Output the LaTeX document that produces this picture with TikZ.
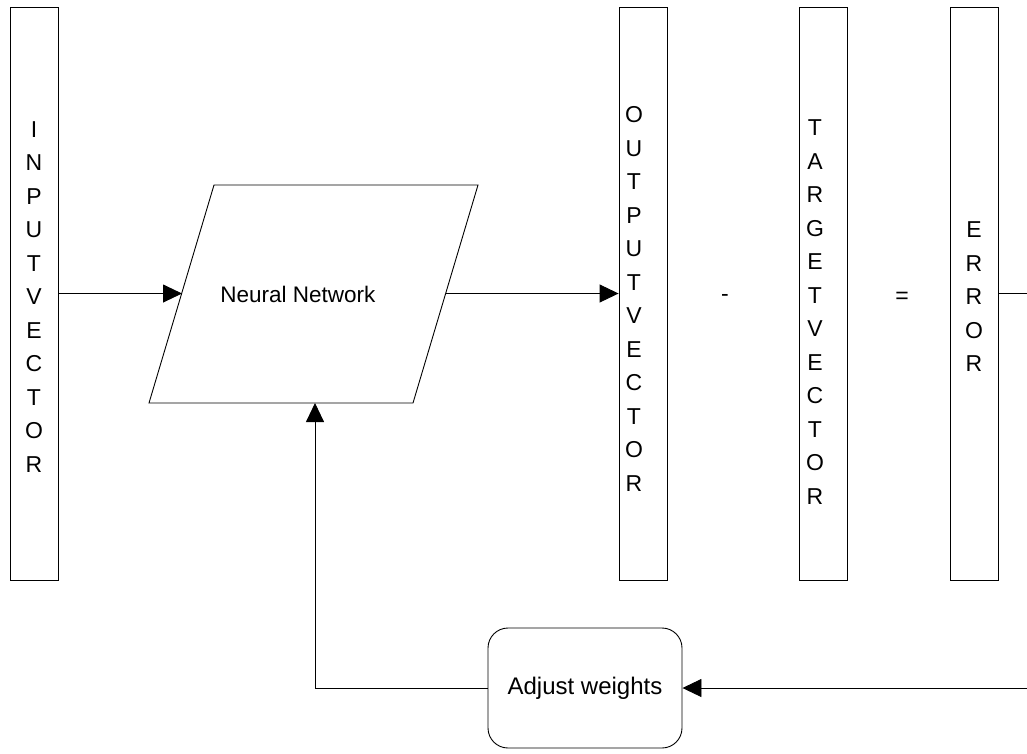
\documentclass[tikz,border=0pt]{standalone}
\usepackage{fontspec}
\setmainfont{Liberation Sans}
\usetikzlibrary{arrows.meta,positioning}

\tikzset{
  vecbox/.style={draw, minimum width=48pt, minimum height=573pt, inner sep=0pt},
  letters/.style={align=center, font=\fontsize{23}{33.5}\selectfont, inner sep=0pt},
  adjbox/.style={draw, rounded corners=20pt, minimum width=194pt, minimum height=120pt,
    font=\fontsize{24}{28}\selectfont},
  conn/.style={-{Triangle[length=19pt,width=18pt]}},
}

\begin{document}
\begin{tikzpicture}[x=1pt,y=-1pt,line width=0.9pt]
\useasboundingbox (0,0) rectangle (1027,753);
% vector boxes
\node[vecbox] (inp) at (34,293.5) {};
\node[vecbox] (out) at (643,293.5) {};
\node[vecbox] (tgt) at (823,293.5) {};
\node[vecbox] (err) at (974,293.5) {};
\node[letters] (inptxt) at (34,297) {I\\N\\P\\U\\T\\V\\E\\C\\T\\O\\R};
\node[letters] (outtxt) at (634,299) {O\\U\\T\\P\\U\\T\\V\\E\\C\\T\\O\\R};
\node[letters] (tgttxt) at (815,312) {T\\A\\R\\G\\E\\T\\V\\E\\C\\T\\O\\R};
\node[letters] (errtxt) at (974,297) {E\\R\\R\\O\\R};
\node[letters] (minus) at (725,298) {-};
\node[letters] (equals) at (902,298) {=};

% network
\coordinate (p1) at (149,403);
\coordinate (p2) at (413,403);
\coordinate (p3) at (478,185);
\coordinate (p4) at (214,185);
\draw (p1) -- (p2) -- (p3) -- (p4) -- cycle;
\node[font=\fontsize{22.5}{26}\selectfont] (nn) at (298,294) {Neural Network};
\coordinate (nnin) at (182,293.5);
\coordinate (nnout) at (446,293.5);
\coordinate (nnbot) at (315,403);

\node[adjbox] (adj) at (585,688) {Adjust weights};
\coordinate (turn) at (1045,293.5);

\draw[conn] (inp.east) -- (nnin);
\draw[conn] (nnout) -- (out.west);
\draw[conn] (err.east) -- (turn) |- (adj.east);
\draw[conn] (adj.west) -| (nnbot);
\end{tikzpicture}
\end{document}
